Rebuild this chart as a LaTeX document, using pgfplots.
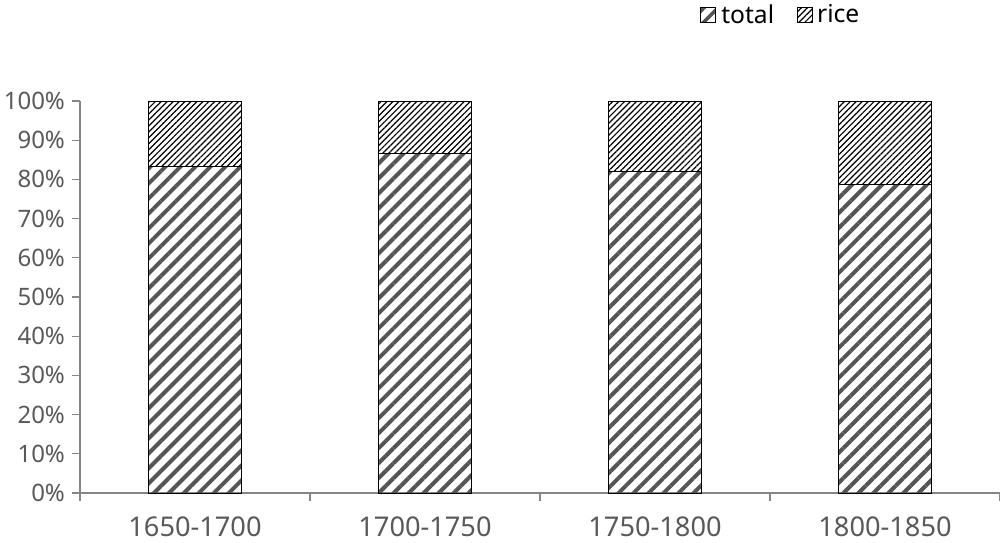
\documentclass[border=0pt]{standalone}
\usepackage{pgfplots}
\pgfplotsset{compat=1.18}
\usetikzlibrary{patterns.meta}
\usepackage{fontspec}
\setmainfont{Noto Sans}
\definecolor{txt}{HTML}{595959}
\definecolor{axc}{HTML}{868686}
\definecolor{hatch}{HTML}{555555}
\begin{document}
\begin{tikzpicture}
\begin{axis}[
  scale only axis, width=460pt, height=196pt,
  xmin=-0.5, xmax=3.5, ymin=0, ymax=100,
  ybar stacked, bar width=46.5pt,
  xtick={0,1,2,3},
  xticklabels={1650-1700,1700-1750,1750-1800,1800-1850},
  minor xtick={-0.5,0.5,1.5,2.5,3.5},
  ytick={0,10,20,30,40,50,60,70,80,90,100},
  yticklabels={0\%,10\%,20\%,30\%,40\%,50\%,60\%,70\%,80\%,90\%,100\%},
  axis x line*=bottom, axis y line*=left,
  axis line style={axc, line width=0.6pt},
  tick align=outside,
  major x tick style={draw=none},
  minor x tick style={axc, line width=0.6pt},
  ytick style={axc, line width=0.6pt},
  major tick length=4pt, minor tick length=4pt,
  x tick label style={font=\fontsize{13.6}{15}\selectfont, text=txt, yshift=-4.5pt},
  y tick label style={font=\fontsize{12}{13}\selectfont, text=txt},
  legend style={at={(0.762,1.219)}, anchor=center, draw=none, legend columns=2,
    font=\fontsize{12.3}{14}\selectfont,
    /tikz/every even column/.append style={column sep=9.5pt}},
]
\addplot[draw=black, line width=0.5pt,
  pattern={Lines[angle=45,distance=5.3pt,line width=2pt]}, pattern color=hatch,
  legend image code/.code={\draw[draw=black,line width=0.5pt,pattern={Lines[angle=45,distance=5pt,line width=1.8pt]}, pattern color=hatch] (0pt,-3.75pt) rectangle (7.5pt,3.75pt);}]
  coordinates {(0,83.4) (1,86.5) (2,82.1) (3,78.8)};
\addlegendentry{total}
\addplot[draw=black, line width=0.5pt,
  pattern={Lines[angle=45,distance=2.1pt,line width=0.6pt]}, pattern color=black,
  legend image code/.code={\draw[draw=black,line width=0.5pt,pattern={Lines[angle=45,distance=2.1pt,line width=0.6pt]}, pattern color=black] (0pt,-3.75pt) rectangle (7.5pt,3.75pt);}]
  coordinates {(0,16.6) (1,13.5) (2,17.9) (3,21.2)};
\addlegendentry{rice}
\end{axis}
\pgfresetboundingbox
\path (-40pt,-24.5pt) rectangle (460pt,246.5pt);
\end{tikzpicture}
\end{document}
